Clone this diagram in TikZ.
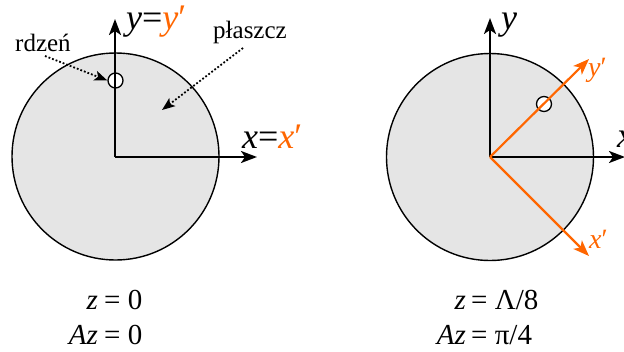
\documentclass[tikz,border=0pt]{standalone}
\usepackage{fontspec}
\setmainfont{Liberation Serif}
\newfontfamily\tms{Liberation Serif}
\usetikzlibrary{arrows.meta}
\definecolor{ora}{RGB}{255,102,0}
\definecolor{cladfill}{RGB}{229,229,229}
\tikzset{
  cladding/.style={circle,draw=black,line width=1.4pt,fill=cladfill,inner sep=0pt,minimum size=207pt},
  corecirc/.style={circle,draw=black,line width=1.3pt,fill=white,inner sep=0pt,minimum size=15pt},
  axis/.style={line width=2.2pt,-{Stealth[length=16pt,width=12pt,inset=4pt]}},
  oaxis/.style={axis,draw=ora,color=ora},
  pointer/.style={line width=1.8pt,dotted,-{Stealth[length=13pt,width=10pt,inset=3pt]}},
  axlabel/.style={inner sep=0pt,font=\tms\fontsize{36}{40}\selectfont},
  smlabel/.style={inner sep=0pt,font=\tms\fontsize{28}{32}\selectfont},
  note/.style={inner sep=0pt,font=\tms\fontsize{25}{28}\selectfont},
  eqtext/.style={inner sep=0pt,font=\tms\fontsize{29}{32}\selectfont},
}
\begin{document}
\begin{tikzpicture}[x=1pt,y=-1pt]
\useasboundingbox (0,0) rectangle (624,351);
\clip (0,0) rectangle (624,351);
% ---------- left fibre ----------
\node[cladding] (clad1) at (115.5,156.5) {};
\coordinate (O1) at (115,157);
\coordinate (Y1) at (115,19);
\coordinate (X1) at (257,157);
\node[corecirc] (core1) at (115.5,80.5) {};
\draw[axis] (O1) -- (Y1);
\draw[axis] (O1) -- (X1);
\node[axlabel,anchor=base west] (ly1) at (126,29) {\textit{y}=\textcolor{ora}{\textit{y}′}};
\node[axlabel,anchor=base west] (lx1) at (242,148) {\textit{x}=\textcolor{ora}{\textit{x}′}};
\node[note,anchor=base west] (rdzen) at (15,51) {rdzeń};
\node[note,anchor=base west] (plaszcz) at (213,38) {płaszcz};
\coordinate (rs) at (45,56);
\coordinate (ps) at (243,48);
\coordinate (pe) at (162,110);
\draw[pointer] (rs) -- (core1.west);
\draw[pointer] (ps) -- (pe);
\node[eqtext,anchor=base east] (z1l) at (98,309) {\textit{z}};
\node[eqtext,anchor=base west] (z1r) at (104,309) {= 0};
\node[eqtext,anchor=base east] (a1l) at (98,344) {\textit{Az}};
\node[eqtext,anchor=base west] (a1r) at (104,344) {= 0};
% ---------- right fibre ----------
\node[cladding] (clad2) at (490,157) {};
\coordinate (O2) at (490,157);
\coordinate (Y2) at (490,18);
\coordinate (X2) at (625,157);
\coordinate (YP) at (589,59);
\coordinate (XP) at (589,256);
\node[corecirc] (core2) at (544,104) {};
\draw[axis] (O2) -- (Y2);
\draw[axis] (O2) -- (X2);
\draw[oaxis] (O2) -- (YP);
\draw[oaxis] (O2) -- (XP);
\node[axlabel,anchor=base west] (ly2) at (501,29) {\textit{y}};
\node[axlabel,anchor=base west] (lx2) at (617,147) {\textit{x}};
\node[smlabel,anchor=base west,text=ora] (lyp) at (588,76) {\textit{y}′};
\node[smlabel,anchor=base west,text=ora] (lxp) at (589,248) {\textit{x}′};
\node[eqtext,anchor=base east] (z2l) at (466,309) {\textit{z}};
\node[eqtext,anchor=base west] (z2r) at (471,309) {= Λ/8};
\node[eqtext,anchor=base east] (a2l) at (466,344) {\textit{Az}};
\node[eqtext,anchor=base west] (a2r) at (471,344) {= π/4};
\end{tikzpicture}
\end{document}
